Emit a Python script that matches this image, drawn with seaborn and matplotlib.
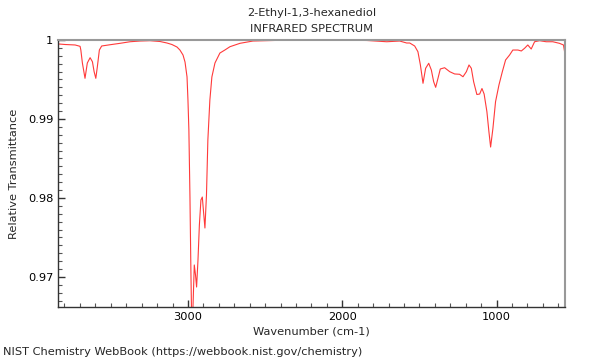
import matplotlib
matplotlib.use("Agg")
import matplotlib.pyplot as plt
import seaborn as sns
import pandas as pd
from matplotlib.ticker import MultipleLocator, FuncFormatter

title_lines = ["2-Ethyl-1,3-hexanediol", "INFRARED SPECTRUM"]
xlabel = "Wavenumber (cm-1)"
ylabel = "Relative Transmittance"
footer = "NIST Chemistry WebBook (https://webbook.nist.gov/chemistry)"

wavenumber = [3841, 3796, 3731, 3699, 3694, 3684, 3667, 3652, 3634, 3619, 3608, 3597, 3587,
              3574, 3559, 3505, 3440, 3375, 3311, 3246, 3181, 3136, 3104, 3071, 3052, 3032,
              3019, 3006, 3000, 2994, 2987, 2981, 2977, 2972, 2966, 2959, 2951, 2944, 2935,
              2926, 2916, 2907, 2900, 2890, 2880, 2871, 2858, 2845, 2825, 2793, 2761, 2728,
              2663, 2579, 2385, 2146, 1842, 1712, 1628, 1583, 1563, 1531, 1510, 1494, 1477,
              1460, 1440, 1423, 1408, 1395, 1380, 1365, 1337, 1304, 1272, 1240, 1218, 1196,
              1179, 1164, 1149, 1128, 1110, 1095, 1081, 1063, 1050, 1039, 1024, 1007, 985,
              963, 942, 916, 895, 862, 840, 819, 798, 776, 754, 722, 679, 636, 593, 567, 556]
transmittance = [0.9995, 0.99943, 0.99937, 0.9992, 0.99873, 0.99709, 0.99515, 0.99709, 0.99776,
                 0.99725, 0.99599, 0.99515, 0.99662, 0.99873, 0.99924, 0.9994, 0.99958, 0.99978,
                 0.99987, 0.99991, 0.99981, 0.99962, 0.99943, 0.99911, 0.99873, 0.9981, 0.99721,
                 0.99532, 0.9924, 0.98861, 0.98012, 0.97088, 0.96582, 0.9633, 0.96708, 0.97152,
                 0.97025, 0.96873, 0.97215, 0.97658, 0.97974, 0.98012, 0.97848, 0.9762, 0.98038,
                 0.98734, 0.9924, 0.99532, 0.99709, 0.99835, 0.99873, 0.99915, 0.99958, 0.99987,
                 0.99997, 1.0, 0.99994, 0.99978, 0.99987, 0.99962, 0.99962, 0.99924, 0.99852,
                 0.99684, 0.99452, 0.99642, 0.99705, 0.9962, 0.99472, 0.99401, 0.99515, 0.99633,
                 0.99649, 0.99599, 0.9957, 0.99566, 0.99535, 0.99599, 0.99684, 0.99642, 0.99472,
                 0.9931, 0.99316, 0.99386, 0.99316, 0.99092, 0.98839, 0.98645, 0.98882, 0.99219,
                 0.9943, 0.99599, 0.99747, 0.9981, 0.99873, 0.99873, 0.99861, 0.99895, 0.99937,
                 0.99886, 0.99978, 0.99991, 0.99978, 0.99978, 0.99958, 0.99937, 0.9981]

df = pd.DataFrame({"wn": wavenumber, "t": transmittance})

sns.set_style("white")
plt.rcParams['font.family'] = ['DejaVu Sans']
fs = 8.2

fig = plt.figure(figsize=(6, 3.6), dpi=100)
ax = fig.add_axes([58/600, 1-307/360, (565-58)/600, (307-40)/360])
sns.lineplot(data=df, x="wn", y="t", sort=False, color="#ff3a3a", linewidth=0.8, ax=ax)

ax.set_xlim(3842, 557)
ax.set_ylim(0.9662, 1.0)
ax.xaxis.set_major_locator(MultipleLocator(1000))
ax.xaxis.set_minor_locator(MultipleLocator(100))
ax.yaxis.set_major_locator(MultipleLocator(0.01))
ax.yaxis.set_minor_locator(MultipleLocator(0.001))
ax.yaxis.set_major_formatter(FuncFormatter(lambda v, p: f"{v:g}"))
ax.tick_params(axis="both", which="major", direction="in", length=5, width=1,
               labelsize=fs, colors="#333333", labelcolor="black")
ax.tick_params(axis="both", which="minor", direction="in", length=3, width=0.8,
               colors="#555555")
ax.tick_params(axis="x", which="both", top=False, bottom=True)
ax.tick_params(axis="y", which="both", left=True, right=False)
for s in ["left", "bottom"]:
    ax.spines[s].set_color("#333333")
    ax.spines[s].set_linewidth(1)
for s in ["top", "right"]:
    ax.spines[s].set_color("#999999")
    ax.spines[s].set_linewidth(1.5)

ax.set_xlabel(xlabel, fontsize=fs, labelpad=3)
ax.set_ylabel(ylabel, fontsize=fs, labelpad=6)
fig.text(312/600, 1-13/360, title_lines[0], ha="center", va="center", fontsize=fs)
fig.text(312/600, 1-29/360, title_lines[1], ha="center", va="center", fontsize=fs)
fig.text(3/600, 1-352/360, footer, ha="left", va="center", fontsize=fs)

fig.savefig("out.png", dpi=100)
